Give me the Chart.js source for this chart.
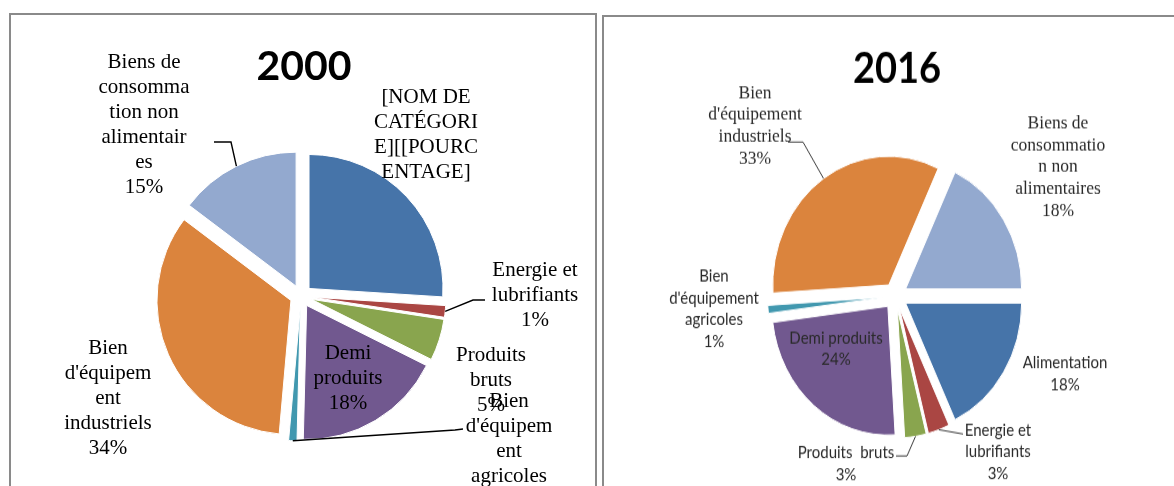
<!DOCTYPE html>
<html><head><meta charset="utf-8">
<script src="https://cdn.jsdelivr.net/npm/chart.js@4.4.1/dist/chart.umd.min.js"></script>
<style>
html,body{margin:0;padding:0;background:#fff;width:1174px;height:486px;overflow:hidden;}
.box{position:absolute;box-sizing:border-box;border:2px solid #8a8a8a;}
#box1{left:9px;top:13px;width:588px;height:520px;}
#box2{left:602px;top:15px;width:620px;height:520px;}
.wrap{position:absolute;}
#w1{left:0;top:0;width:598px;height:486px;}
#w2{left:600px;top:0;width:574px;height:486px;transform-origin:295.5px 296px;transform:scaleY(1.11);}
</style></head>
<body>
<div class="box" id="box1"></div>
<div class="box" id="box2"></div>
<div class="wrap" id="w1"><canvas id="c2000"></canvas></div>
<div class="wrap" id="w2"><canvas id="c2016"></canvas></div>
<script>
// ---------- data ----------
const categories = ["Alimentation", "Energie et lubrifiants", "Produits bruts", "Demi produits",
  "Bien d'équipement agricoles", "Bien d'équipement industriels", "Biens de consommation non alimentaires"];
const values2000 = [26, 1.4, 5, 18, 1, 33.9, 14.7];
const values2016 = [18, 3, 3, 24, 1, 33, 18];
const colors = ['#4674A9', '#AA4643', '#89A54E', '#71588F', '#4198AF', '#DB843D', '#93A9CF'];

// label texts (as wrapped in the original)
const labels2000 = [
  ["[NOM DE", "CATÉGORI", "E][[POURC", "ENTAGE]"],
  ["Energie et", "lubrifiants"],
  ["Produits", "bruts"],
  ["Demi", "produits"],
  ["Bien", "d'équipem", "ent", "agricoles"],
  ["Bien", "d'équipem", "ent", "industriels"],
  ["Biens de", "consomma", "tion non", "alimentair", "es"]
];
const showPct2000 = [false, true, true, true, true, true, true];
const labels2016 = [
  ["Alimentation"],
  ["Energie et", "lubrifiants"],
  ["Produits  bruts"],
  ["Demi produits"],
  ["Bien", "d'équipement", "agricoles"],
  ["Bien", "d'équipement", "industriels"],
  ["Biens de", "consommatio", "n non", "alimentaires"]
];
const showPct2016 = [true, true, true, true, true, true, true];

// ---------- label placement (style, relative to pie centre) ----------
const place2000 = [[125, -161.5], [234, -1], [190, 84], [47, 82], [208, 155], [-193, 102], [-157, -171.5]];
const leaders2000 = [null, [[172, 4], [184, 4]], null, null, [[154, 134], [162, 133]], null, [[-70, -154], [-87, -154]]];
const serif2000 = '21px "Liberation Serif", "DejaVu Serif", serif';
const fonts2000 = Array(7).fill(serif2000);

const place2016 = [[169.5, 70.3], [102.5, 140.5], [-49.5, 150.9], [-59.5, 47.7], [-181.5, 11.7], [-140.5, -153.2], [162.5, -116.2]];
const leaders2016 = [null, [[67.5, 124.3]], [[11.5, 144.1], [0.5, 144.1]], null, null, [[-92.5, -138.7], [-107.5, -138.7]], null];
const sans2016 = '15px Lato, "Open Sans", sans-serif';
const serif2016 = '17.5px "Liberation Serif", "DejaVu Serif", serif';
const fonts2016 = [sans2016, sans2016, sans2016, sans2016, sans2016, serif2016, serif2016];

function makeLabelPlugin(cfg) {
  return {
    id: 'sliceLabels',
    beforeDatasetsDraw(chart) {
      const meta = chart.getDatasetMeta(0);
      meta.data.forEach(arc => {
        if (arc._exploded) return;
        const base = arc.draw;
        arc.draw = function (ctx, area) {
          const m = (this.startAngle + this.endAngle) / 2;
          ctx.save();
          ctx.translate(Math.cos(m) * cfg.explode, Math.sin(m) * cfg.explode);
          base.call(this, ctx, area);
          ctx.restore();
        };
        arc._exploded = true;
      });
    },
    afterDatasetsDraw(chart) {
      const ctx = chart.ctx;
      const meta = chart.getDatasetMeta(0);
      const vals = chart.data.datasets[0].data;
      const total = vals.reduce((a, b) => a + b, 0);
      ctx.save();
      ctx.fillStyle = '#000';
      ctx.textAlign = 'center';
      ctx.textBaseline = 'alphabetic';
      ctx.font = cfg.titleFont;
      const ca = chart.chartArea;
      ctx.fillText(cfg.title, (ca.left + ca.right) / 2 + cfg.titleDx, cfg.titleY);
      meta.data.forEach((arc, i) => {
        const cx = arc.x, cy = arc.y, R = arc.outerRadius;
        const lines = cfg.lines[i].slice();
        if (cfg.showPct[i]) lines.push(Math.round(vals[i] / total * 100) + '%');
        const ld = cfg.leaders[i];
        if (ld) {
          const a = (arc.startAngle + arc.endAngle) / 2;
          ctx.beginPath();
          ctx.moveTo(cx + Math.cos(a) * (R + cfg.explode), cy + Math.sin(a) * (R + cfg.explode));
          ld.forEach(p => ctx.lineTo(cx + p[0], cy + p[1]));
          ctx.strokeStyle = cfg.leaderColor;
          ctx.lineWidth = cfg.leaderWidth;
          ctx.stroke();
        }
        ctx.font = cfg.fonts[i];
        ctx.fillStyle = cfg.textColor;
        ctx.textAlign = 'center';
        ctx.textBaseline = 'middle';
        const n = lines.length;
        const p = cfg.place[i];
        lines.forEach((t, k) => ctx.fillText(t, cx + p[0], cy + p[1] + (k - (n - 1) / 2) * cfg.lineHeight));
      });
      ctx.restore();
    }
  };
}

function makePie(id, values, rotation, radius, padding, cfg) {
  return new Chart(document.getElementById(id), {
    type: 'pie',
    data: {
      labels: categories,
      datasets: [{ data: values, backgroundColor: colors, borderColor: '#fff', borderWidth: 1, offset: 0, hoverOffset: 0 }]
    },
    options: {
      responsive: true,
      maintainAspectRatio: false,
      animation: false,
      events: [],
      rotation: rotation,
      radius: radius,
      layout: { padding: padding },
      plugins: { legend: { display: false }, tooltip: { enabled: false }, title: { display: false } }
    },
    plugins: [makeLabelPlugin(cfg)]
  });
}

makePie('c2000', values2000, 0, 134, { left: 4, right: 0, top: 106, bottom: 0 }, {
  title: '2000', titleFont: '700 41px Lato, "Liberation Sans", sans-serif', titleDx: 3, titleY: 80,
  lines: labels2000, showPct: showPct2000, place: place2000, leaders: leaders2000, fonts: fonts2000,
  explode: 11, lineHeight: 25, textColor: '#000', leaderColor: '#000', leaderWidth: 1.4
});

makePie('c2016', values2016, 90, 116, { left: 17, right: 0, top: 106, bottom: 0 }, {
  title: '2016', titleFont: '700 38px Lato, "Liberation Sans", sans-serif', titleDx: 1.5, titleY: 104,
  lines: labels2016, showPct: showPct2016, place: place2016, leaders: leaders2016, fonts: fonts2016,
  explode: 12, lineHeight: 19.8, textColor: '#2a2a2a', leaderColor: '#3a3a3a', leaderWidth: 1
});
</script>
</body></html>
